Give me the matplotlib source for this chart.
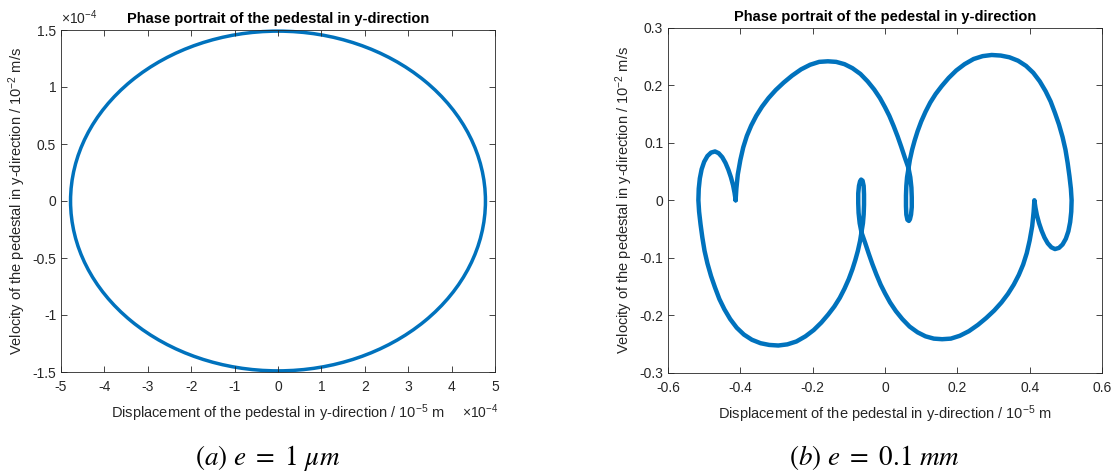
import matplotlib.pyplot as plt
from matplotlib.patches import Ellipse
from matplotlib.ticker import MultipleLocator, FuncFormatter

plt.rcParams['font.family'] = ['Liberation Sans', 'DejaVu Sans']
plt.rcParams['axes.unicode_minus'] = False
plt.rcParams['mathtext.fontset'] = 'custom'
plt.rcParams['mathtext.rm'] = 'Liberation Sans'
plt.rcParams['mathtext.it'] = 'Liberation Sans:italic'
plt.rcParams['mathtext.bf'] = 'Liberation Sans:bold'

LINE = '#0072BD'
AXC = '#262626'

# (a) e = 1 um : orbit is a plain ellipse
disp_centre_a = 0.0
vel_centre_a = 0.0
disp_amp_a = 4.78e-4
vel_amp_a = 1.49e-4

# (b) e = 0.1 mm : traced orbit, first half, left cusp -> right cusp
disp_half1 = [-0.413, -0.411, -0.407, -0.400, -0.392, -0.382, -0.370, -0.356, -0.340,
              -0.322, -0.302, -0.280, -0.257, -0.232, -0.207, -0.182, -0.158, -0.135,
              -0.112, -0.090, -0.068, -0.048, -0.030, -0.014, 0.000, 0.012, 0.024,
              0.035, 0.045, 0.055, 0.065,
              0.070, 0.073, 0.074, 0.074, 0.072, 0.069, 0.066, 0.062, 0.059, 0.058,
              0.058, 0.059, 0.061, 0.065,
              0.069, 0.075, 0.082, 0.090, 0.100, 0.112, 0.125, 0.140, 0.157, 0.176,
              0.197, 0.220, 0.245, 0.270, 0.295, 0.320, 0.344, 0.368, 0.390, 0.410,
              0.428, 0.444, 0.458, 0.470, 0.481, 0.491, 0.499, 0.505, 0.510, 0.514,
              0.516, 0.515, 0.512, 0.507, 0.500, 0.491, 0.481, 0.470, 0.460, 0.450,
              0.441, 0.433, 0.426, 0.420, 0.416, 0.413]
vel_half1 = [0.000, 0.020, 0.045, 0.070, 0.092, 0.112, 0.130, 0.147, 0.163,
             0.178, 0.192, 0.205, 0.217, 0.228, 0.236, 0.241, 0.242, 0.241,
             0.237, 0.230, 0.220, 0.207, 0.193, 0.178, 0.162, 0.147, 0.129,
             0.111, 0.093, 0.074, 0.056,
             0.040, 0.022, 0.005, -0.012, -0.025, -0.033, -0.036, -0.034, -0.025, -0.010,
             0.008, 0.025, 0.040, 0.056,
             0.071, 0.088, 0.104, 0.120, 0.137, 0.154, 0.170, 0.185, 0.199, 0.213,
             0.226, 0.237, 0.246, 0.251, 0.253, 0.252, 0.249, 0.243, 0.234, 0.222,
             0.207, 0.190, 0.172, 0.152, 0.132, 0.110, 0.088, 0.065, 0.042, 0.020,
             0.000, -0.020, -0.038, -0.054, -0.067, -0.077, -0.083, -0.085, -0.082, -0.075,
             -0.065, -0.053, -0.040, -0.026, -0.013, 0.000]

# second half, right cusp -> left cusp
disp_half2 = [0.413, 0.411, 0.407, 0.400, 0.392, 0.382, 0.370, 0.356, 0.340,
              0.322, 0.302, 0.280, 0.257, 0.232, 0.207, 0.182, 0.158, 0.135,
              0.112, 0.090, 0.068, 0.048, 0.030, 0.014, 0.000, -0.012, -0.024,
              -0.035, -0.045, -0.055, -0.065,
              -0.070, -0.073, -0.074, -0.074, -0.072, -0.069, -0.066, -0.062, -0.059, -0.058,
              -0.058, -0.059, -0.061, -0.065,
              -0.069, -0.075, -0.082, -0.090, -0.100, -0.112, -0.125, -0.140, -0.157, -0.176,
              -0.197, -0.220, -0.245, -0.270, -0.295, -0.320, -0.344, -0.368, -0.390, -0.410,
              -0.428, -0.444, -0.458, -0.470, -0.481, -0.491, -0.499, -0.505, -0.510, -0.514,
              -0.516, -0.515, -0.512, -0.507, -0.500, -0.491, -0.481, -0.470, -0.460, -0.450,
              -0.441, -0.433, -0.426, -0.420, -0.416, -0.413]
vel_half2 = [0.000, -0.020, -0.045, -0.070, -0.092, -0.112, -0.130, -0.147, -0.163,
             -0.178, -0.192, -0.205, -0.217, -0.228, -0.236, -0.241, -0.242, -0.241,
             -0.237, -0.230, -0.220, -0.207, -0.193, -0.178, -0.162, -0.147, -0.129,
             -0.111, -0.093, -0.074, -0.056,
             -0.040, -0.022, -0.005, 0.012, 0.025, 0.033, 0.036, 0.034, 0.025, 0.010,
             -0.008, -0.025, -0.040, -0.056,
             -0.071, -0.088, -0.104, -0.120, -0.137, -0.154, -0.170, -0.185, -0.199, -0.213,
             -0.226, -0.237, -0.246, -0.251, -0.253, -0.252, -0.249, -0.243, -0.234, -0.222,
             -0.207, -0.190, -0.172, -0.152, -0.132, -0.110, -0.088, -0.065, -0.042, -0.020,
             0.000, 0.020, 0.038, 0.054, 0.067, 0.077, 0.083, 0.085, 0.082, 0.075,
             0.065, 0.053, 0.040, 0.026, 0.013, 0.000]

title = 'Phase portrait of the pedestal in y-direction'
xlab = r'Displacement of the pedestal in y-direction / 10$^{-5}$ m'
ylab = r'Velocity of the pedestal in y-direction / 10$^{-2}$ m/s'


def matlab_style(ax):
    ax.tick_params(direction='in', length=4, width=0.6, top=True, right=True,
                   colors=AXC, labelsize=10)
    ax.tick_params(axis='x', pad=6)
    ax.tick_params(axis='y', pad=3.5)
    for s in ax.spines.values():
        s.set_color(AXC)
        s.set_linewidth(0.6)
    ax.set_title(title, fontsize=10.5, fontweight='bold', pad=5)
    ax.set_xlabel(xlab, fontsize=10.5, color=AXC, labelpad=6)
    ax.set_ylabel(ylab, fontsize=10.5, color=AXC, labelpad=3)


fig = plt.figure(figsize=(11.13, 4.75), dpi=100)
W, H = 1113, 475

ax1 = fig.add_axes([61 / W, 1 - 372 / H, 434 / W, 342 / H])
ax1.add_patch(Ellipse((disp_centre_a, vel_centre_a), 2 * disp_amp_a, 2 * vel_amp_a,
                      fill=False, ec=LINE, lw=2.5, clip_on=False))
ax1.set_xlim(-5e-4, 5e-4)
ax1.set_ylim(-1.5e-4, 1.5e-4)
ax1.xaxis.set_major_locator(MultipleLocator(1e-4))
ax1.yaxis.set_major_locator(MultipleLocator(0.5e-4))
fmt = FuncFormatter(lambda v, p: f'{round(v / 1e-4, 6) + 0.0:g}')
ax1.xaxis.set_major_formatter(fmt)
ax1.yaxis.set_major_formatter(fmt)
matlab_style(ax1)
ax1.text(0.0, 1.008, r'$\times10^{-4}$', transform=ax1.transAxes, ha='left', va='bottom',
         fontsize=10, color=AXC)
ax1.text(0.925, -0.115, r'$\times10^{-4}$', transform=ax1.transAxes, ha='left', va='center',
         fontsize=10, color=AXC)

ax2 = fig.add_axes([668 / W, 1 - 372.5 / H, 434 / W, 344.5 / H])
ax2.plot(disp_half1 + disp_half2, vel_half1 + vel_half2, color=LINE, lw=3.2,
         solid_joinstyle='round', solid_capstyle='round', clip_on=False)
ax2.set_xlim(-0.6, 0.6)
ax2.set_ylim(-0.3, 0.3)
ax2.xaxis.set_major_locator(MultipleLocator(0.2))
ax2.yaxis.set_major_locator(MultipleLocator(0.1))
fmt2 = FuncFormatter(lambda v, p: f'{round(v, 6) + 0.0:g}')
ax2.xaxis.set_major_formatter(fmt2)
ax2.yaxis.set_major_formatter(fmt2)
matlab_style(ax2)

fig.text(268 / W, 1 - 458 / H, r'$(a)\ e\ =\ 1\ \mu m$', math_fontfamily='stix',
         fontsize=19.5, ha='center', va='center')
fig.text(874 / W, 1 - 458 / H, r'$(b)\ e\ =\ 0.1\ mm$', math_fontfamily='stix',
         fontsize=19.5, ha='center', va='center')

fig.savefig('out.png', dpi=100)
